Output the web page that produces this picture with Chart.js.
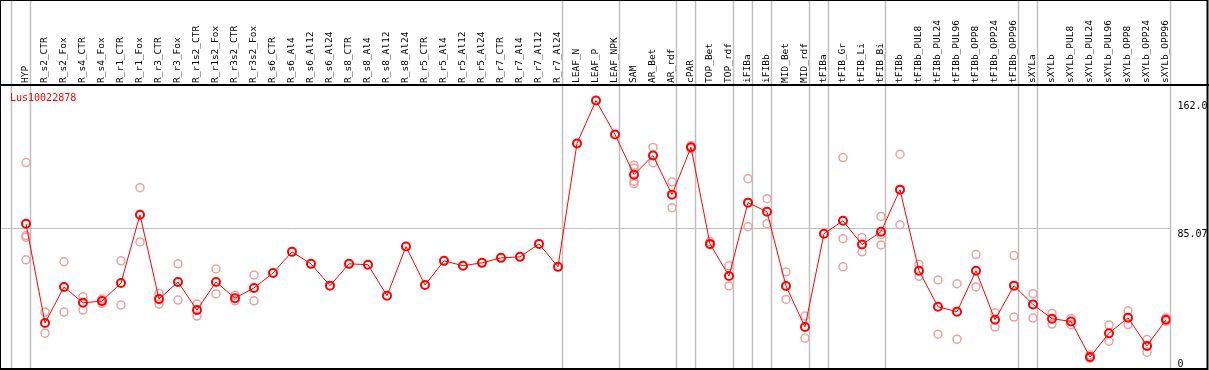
<!DOCTYPE html>
<html>
<head>
<meta charset="utf-8">
<script src="https://cdn.jsdelivr.net/npm/chart.js@4"></script>
<style>body{margin:0;background:#fff}</style>
</head>
<body>
<canvas id="grafico" width="1209" height="370"></canvas>
<script>
const geneId = "Lus10022878";

const categories = [
    "HYP", "R_s2_CTR", "R_s2_Fox", "R_s4_CTR", "R_s4_Fox", "R_r1_CTR", "R_r1_Fox", "R_r3_CTR", "R_r3_Fox",
    "R_r1s2_CTR", "R_r1s2_Fox", "R_r3s2_CTR", "R_r3s2_Fox", "R_s6_CTR", "R_s6_Al4", "R_s6_Al12", "R_s6_Al24",
    "R_s8_CTR", "R_s8_Al4", "R_s8_Al12", "R_s8_Al24", "R_r5_CTR", "R_r5_Al4", "R_r5_Al12", "R_r5_Al24",
    "R_r7_CTR", "R_r7_Al4", "R_r7_Al12", "R_r7_Al24", "LEAF_N", "LEAF_P", "LEAF_NPK", "SAM", "AR_Bet", "AR_rdf",
    "cPAR", "TOP_Bet", "TOP_rdf", "iFIBa", "iFIBb", "MID_Bet", "MID_rdf", "tFIBa", "tFIB_Gr", "tFIB_Li", "tFIB_Bi",
    "tFIBb", "tFIBb_PUL8", "tFIBb_PUL24", "tFIBb_PUL96", "tFIBb_OPP8", "tFIBb_OPP24", "tFIBb_OPP96",
    "sXYLa", "sXYLb", "sXYLb_PUL8", "sXYLb_PUL24", "sXYLb_PUL96", "sXYLb_OPP8", "sXYLb_OPP24", "sXYLb_OPP96"
];

// media por muestra
const means = [
    87.9, 28.2, 49.9, 40.4, 41.4, 52.3, 93.3, 42.6, 52.9,
    36.0, 52.9, 43.2, 49.3, 58.3, 71.0, 63.8, 50.7,
    63.8, 63.3, 44.6, 74.2, 51.1, 65.6, 62.7, 64.4,
    67.4, 68.0, 75.8, 62.0, 136.2, 162.0, 141.6, 117.4, 128.9, 105.4,
    133.9, 75.8, 56.5, 100.6, 95.1, 50.5, 25.8, 81.9, 89.7, 75.4, 83.1,
    108.4, 59.7, 38.0, 35.0, 59.7, 30.2, 50.7,
    39.4, 30.8, 29.2, 7.8, 22.1, 31.4, 14.5, 30.2
];

// replicas (puntos claros)
const replicates = [
    [124.7, 80.8, 79.8, 66.2], [34.8, 22.1], [65.0, 34.8], [44.0, 36.0], [42.6, 40.0], [65.6, 39.0], [109.6, 77.0], [46.0, 39.6], [63.8, 42.0],
    [39.6, 32.4], [60.7, 45.7], [45.0, 41.6], [57.1, 41.6], [], [], [], [],
    [], [], [], [], [], [], [], [],
    [], [], [], [], [], [], [], [123.1, 121.3, 113.4, 112.0], [133.8, 124.5], [113.0, 97.5],
    [135.0, 133.0], [77.2, 75.2], [62.6, 50.5], [115.0, 86.1], [103.0, 87.9], [58.9, 42.4], [32.4, 19.1], [], [127.7, 78.9, 62.0], [79.6, 71.0], [92.3, 81.4, 75.2],
    [129.7, 87.3], [63.5, 56.3], [54.1, 21.5], [51.9, 18.5], [69.4, 49.9], [34.4, 25.8], [68.8, 31.8],
    [45.9, 31.2], [34.0, 27.6], [31.0, 27.2], [9.0, 7.0], [27.0, 17.3], [35.6, 27.3], [18.3, 10.7], [31.2, 29.2]
];

// ultimo indice de cada grupo (separadores grises)
const groupEnds = [-1, 0, 28, 31, 34, 35, 37, 38, 39, 41, 42, 45, 52, 53, 60];

const yTicks = [0, 85.07, 162.0];
const yTickLabels = ["0", "85.07", "162.0"];

const mono = "DejaVu Sans Mono";

const marcoPlugin = {
    id: "marco",
    beforeDatasetsDraw(chart) {
        const ctx = chart.ctx;
        const x = chart.scales.x;
        ctx.save();
        ctx.strokeStyle = "#c0c0c0";
        ctx.lineWidth = 1.5;
        groupEnds.forEach(i => {
            const px = Math.round(x.getPixelForValue(i + 0.22)) + 0.5;
            ctx.beginPath();
            ctx.moveTo(px, 0);
            ctx.lineTo(px, chart.height);
            ctx.stroke();
        });
        ctx.restore();
    },
    afterDraw(chart) {
        const ctx = chart.ctx;
        ctx.save();
        ctx.strokeStyle = "#000";
        ctx.lineWidth = 2;
        ctx.strokeRect(0, 0, 1207.5, 369);
        ctx.beginPath();
        ctx.moveTo(0, 85);
        ctx.lineTo(chart.width, 85);
        ctx.stroke();
        ctx.fillStyle = "#ff0000";
        ctx.font = "10px '" + mono + "'";
        ctx.textBaseline = "top";
        ctx.fillText(geneId, 10, 93);
        ctx.restore();
    }
};

const sinPadding = s => { s.paddingLeft = 0; s.paddingRight = 0; s.paddingTop = 0; s.paddingBottom = 0; };

const ctx = document.getElementById("grafico").getContext("2d");
new Chart(ctx, {
    type: "line",
    data: {
        datasets: [
            {
                label: geneId,
                data: means.map((v, i) => ({ x: i, y: v })),
                borderColor: "#ff0000",
                borderWidth: 1,
                pointRadius: 4,
                pointBorderWidth: 2,
                pointBorderColor: "#ff0000",
                pointBackgroundColor: "rgba(0,0,0,0)",
                order: 0
            },
            {
                label: "replicas",
                data: replicates.flatMap((arr, i) => arr.map(v => ({ x: i, y: v }))),
                showLine: false,
                pointRadius: 4,
                pointBorderWidth: 1.5,
                pointBorderColor: "#f0a0a0",
                pointBackgroundColor: "rgba(0,0,0,0)",
                order: 1
            }
        ]
    },
    options: {
        responsive: false,
        animation: false,
        devicePixelRatio: 1,
        layout: { padding: 0, autoPadding: false },
        plugins: { legend: { display: false }, tooltip: { enabled: false } },
        scales: {
            x: {
                type: "linear",
                position: "top",
                min: -1.368,
                max: 60.237,
                bounds: "data",
                afterBuildTicks: s => { s.ticks = categories.map((_, i) => ({ value: i })); },
                afterFit: s => { s.height = 86; sinPadding(s); },
                grid: { display: false, drawTicks: false },
                border: { display: false },
                ticks: {
                    autoSkip: false,
                    minRotation: 90,
                    maxRotation: 90,
                    padding: 3,
                    labelOffset: 11,
                    color: "#000",
                    font: { family: mono, size: 9.5 },
                    callback: v => categories[v]
                }
            },
            y: {
                position: "right",
                min: 0,
                max: 170.7,
                afterBuildTicks: s => { s.ticks = yTicks.map(v => ({ value: v })); },
                afterFit: s => { s.width = 38.5; sinPadding(s); },
                grid: {
                    drawTicks: false,
                    color: c => (c.tick && c.tick.value === 85.07) ? "#c0c0c0" : "rgba(0,0,0,0)"
                },
                border: { display: false },
                ticks: {
                    padding: 7,
                    color: "#000",
                    font: { family: mono, size: 10 },
                    // la etiqueta del 0 va por encima, las demas por debajo
                    callback: (v, i) => i === 0 ? [yTickLabels[i], ""] : ["", yTickLabels[i]]
                }
            }
        }
    },
    plugins: [marcoPlugin]
});
</script>
</body>
</html>
